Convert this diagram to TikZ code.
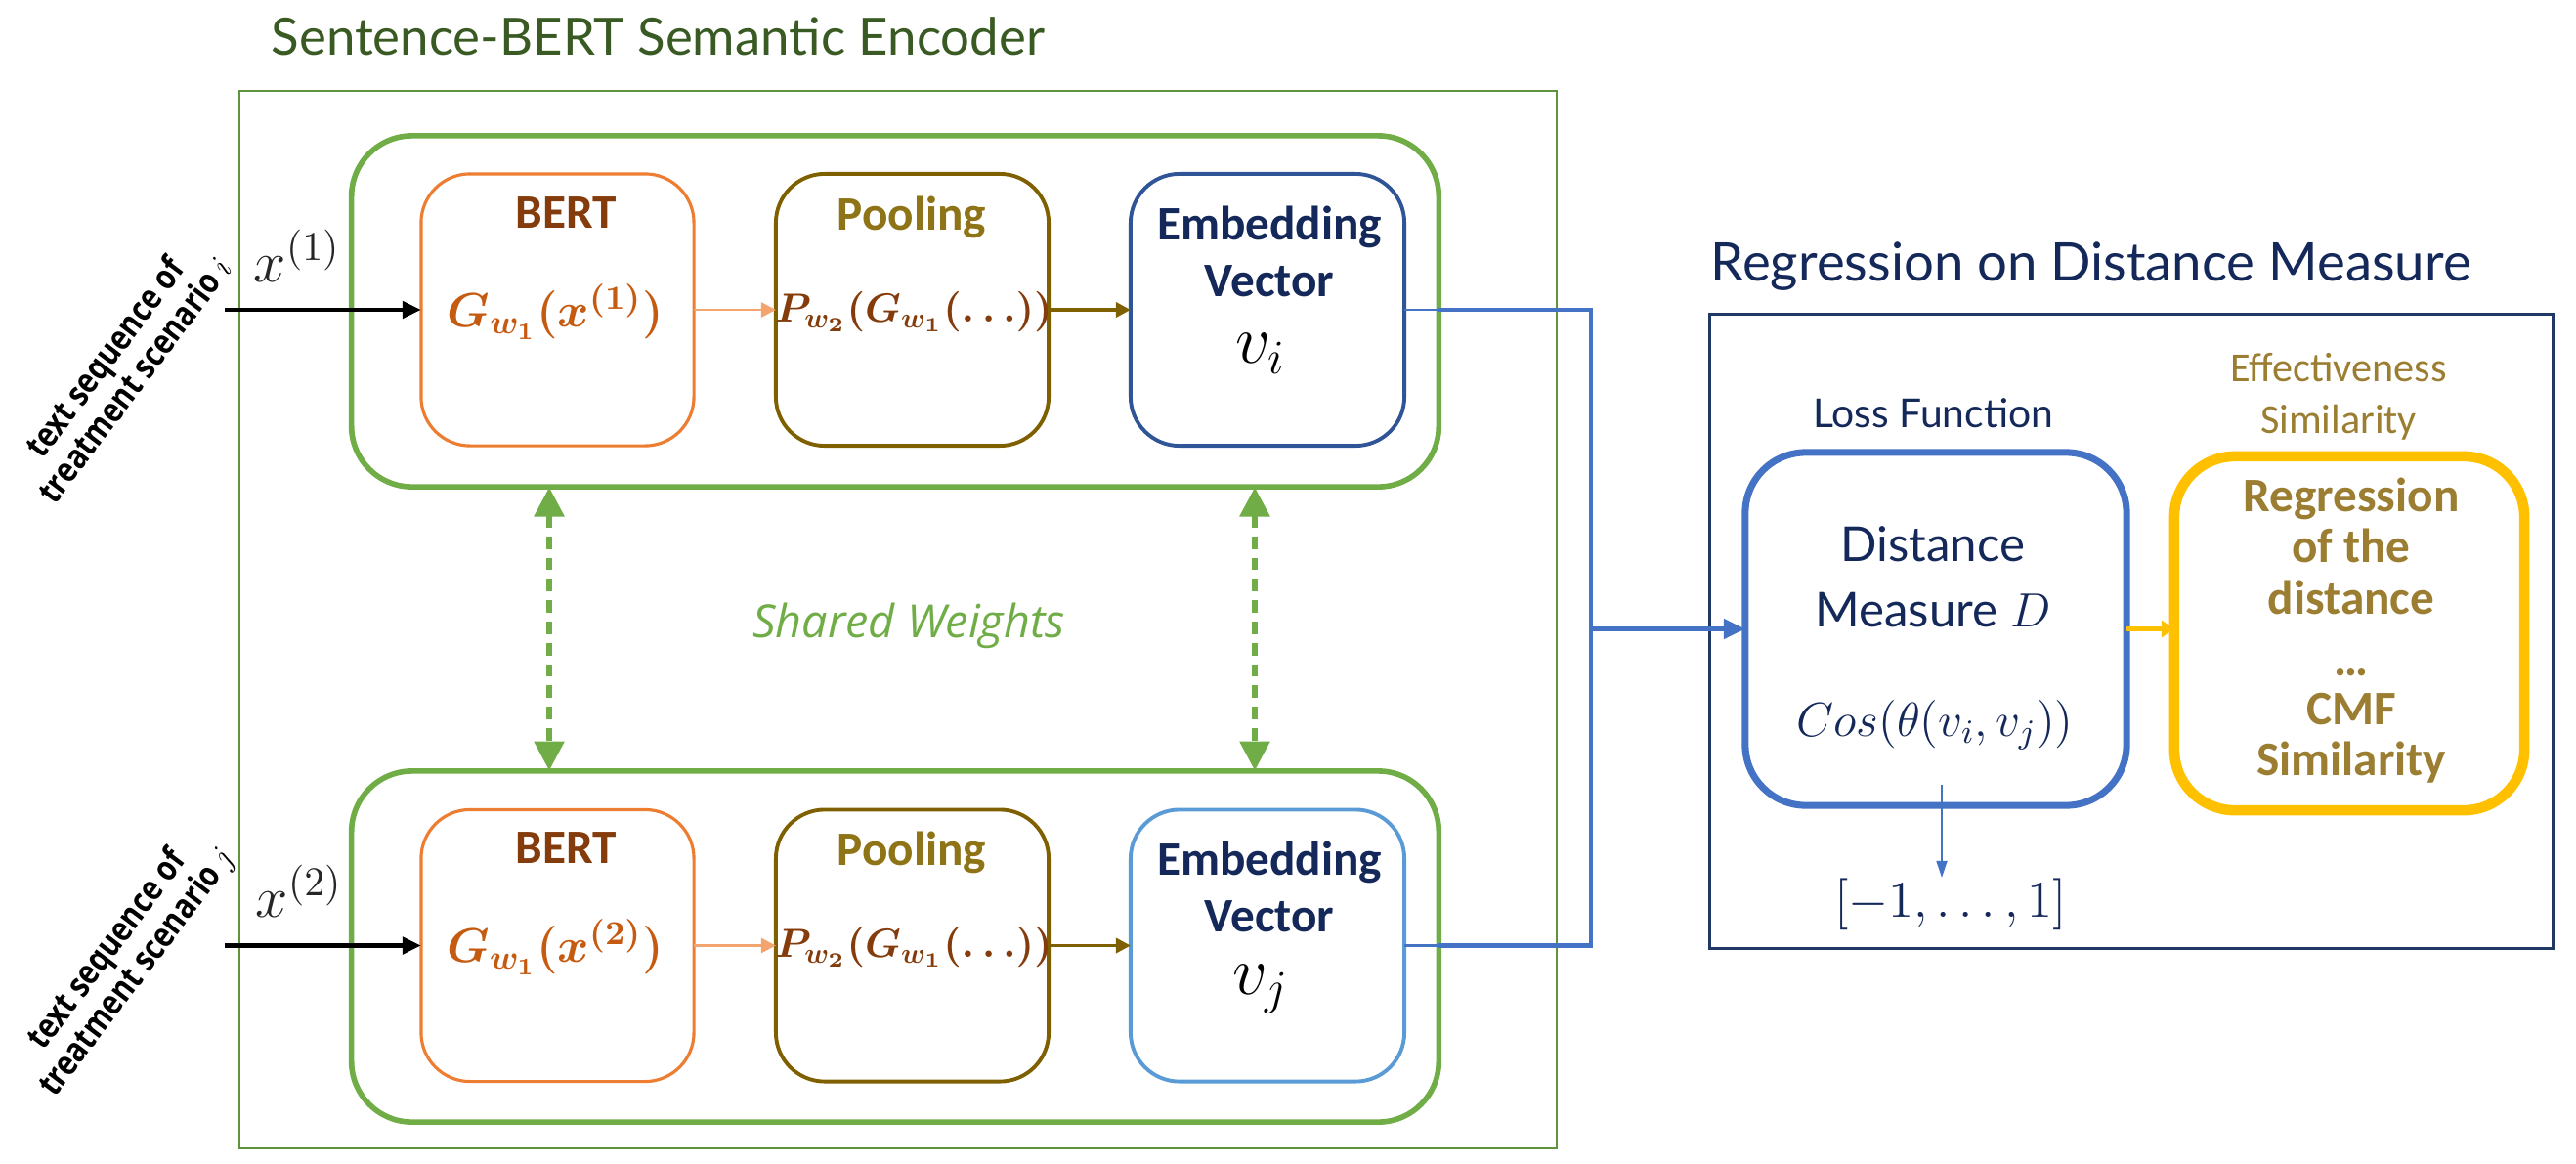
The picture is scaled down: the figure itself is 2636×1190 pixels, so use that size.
\RequirePackage{fix-cm}
\documentclass[tikz,border=0pt]{standalone}
\usepackage{amsmath,bm,graphicx}
\usepackage{fontspec}
\setmainfont{Lato}
\newfontfamily\carl{Carlito}
\newfontfamily\osans{Open Sans}
\usetikzlibrary{arrows.meta}
\definecolor{grn}{HTML}{70AD47}
\definecolor{dgrn}{HTML}{3A5A24}
\definecolor{org}{HTML}{ED7D31}
\definecolor{lorg}{HTML}{F4A46E}
\definecolor{brn}{HTML}{843C0C}
\definecolor{orgtxt}{HTML}{C55A11}
\definecolor{olv}{HTML}{7F6000}
\definecolor{poolt}{HTML}{8E7416}
\definecolor{navy}{HTML}{14285A}
\definecolor{dblue}{HTML}{2F5597}
\definecolor{lblue}{HTML}{5B9BD5}
\definecolor{blu}{HTML}{4472C4}
\definecolor{ylw}{HTML}{FFC000}
\definecolor{gold}{HTML}{9C7E32}
\definecolor{rbox}{HTML}{1F3864}
\newcommand{\sidetext}[2]{\scalebox{0.84}[1]{\begin{tabular}{@{}c@{}}#1\\#2\end{tabular}}}
\tikzset{
  fs/.style={font=\fontsize{#1}{#1}\selectfont},
  encbox/.style={draw=grn, line width=1.6pt, rounded corners=0.62cm, minimum width=11.12cm, minimum height=3.59cm, inner sep=0, outer sep=0},
  bertbox/.style={draw=org, line width=0.9pt, rounded corners=0.5cm, minimum width=2.79cm, minimum height=2.78cm, inner sep=0, outer sep=0},
  poolbox/.style={draw=olv, line width=1.1pt, rounded corners=0.5cm, minimum width=2.79cm, minimum height=2.78cm, inner sep=0, outer sep=0},
  embbox/.style={line width=1.1pt, rounded corners=0.5cm, minimum width=2.80cm, minimum height=2.78cm, inner sep=0, outer sep=0},
  boxlabel/.style={font=\carl\bfseries\fontsize{14}{16.5}\selectfont, align=center, inner sep=0},
  titlefont/.style={font=\fontsize{15}{18}\selectfont, inner sep=0},
  sidelabel/.style={rotate=53, inner sep=0, font=\osans\bfseries\fontsize{10}{10.6}\selectfont},
  inarrow/.style={line width=1.4pt, -{Triangle[length=0.19cm,width=0.17cm]}},
  dasharr/.style={grn, line width=1.7pt, dash pattern=on 3.6pt off 2.6pt, {Triangle[length=0.3cm,width=0.3cm]}-{Triangle[length=0.3cm,width=0.3cm]}},
  bluline/.style={blu, line width=1.4pt},
}
\begin{document}
\begin{tikzpicture}[x=0.01cm,y=-0.01cm]
\useasboundingbox (0,0) rectangle (2636,1190);
% ---------- left panel ----------
\node[titlefont, text=dgrn, anchor=west] (enctitle) at (277,37) {Sentence-BERT Semantic Encoder};
\node[draw=grn!85!black, line width=0.6pt, minimum width=13.48cm, minimum height=10.82cm, inner sep=0, outer sep=0] (outer) at (919,634) {};

\node[encbox] (enc1) at (916,318.5) {};
\node[encbox] (enc2) at (916,968.5) {};

% top row
\node[bertbox] (bert1) at (570.5,317) {};
\node[poolbox] (pool1) at (933.5,317) {};
\node[embbox, draw=dblue] (emb1) at (1297,317) {};
\node[boxlabel, text=brn] (bertl1) at (579,218) {BERT};
\node[text=orgtxt, inner sep=0, fs=14] (g1) at (568,319) {$\bm{G_{w_1}(x^{(1)})}$};
\node[boxlabel, text=poolt] (pooll1) at (933,222) {Pooling};
\node[text=brn, inner sep=0, fs=11.8] (p1) at (935,319) {$\bm{P_{w_2}(G_{w_1}(\ldots))}$};
\node[boxlabel, text=navy] (embl1) at (1299,257) {Embedding\\Vector};
\node[inner sep=0, fs=20] (v1) at (1290,362) {$v_i$};

% bottom row
\node[bertbox] (bert2) at (570.5,967.5) {};
\node[poolbox] (pool2) at (933.5,967.5) {};
\node[embbox, draw=lblue] (emb2) at (1297,967.5) {};
\node[boxlabel, text=brn] (bertl2) at (579,868) {BERT};
\node[text=orgtxt, inner sep=0, fs=14] (g2) at (568,969) {$\bm{G_{w_1}(x^{(2)})}$};
\node[boxlabel, text=poolt] (pooll2) at (933,872) {Pooling};
\node[text=brn, inner sep=0, fs=11.8] (p2) at (935,969) {$\bm{P_{w_2}(G_{w_1}(\ldots))}$};
\node[boxlabel, text=navy] (embl2) at (1299,907) {Embedding\\Vector};
\node[inner sep=0, fs=20] (v2) at (1290,1012) {$v_j$};

% inputs
\coordinate (in1) at (230,317);
\coordinate (in2) at (230,967.5);
\node[inner sep=0, fs=17, text=black!85] (x1) at (304,262) {$x^{(1)}$};
\node[inner sep=0, fs=17, text=black!85] (x2) at (306,912) {$x^{(2)}$};
\node[sidelabel] (lab1) at (126,380) {\sidetext{text sequence of}{treatment scenario $i$}};
\node[sidelabel] (lab2) at (127,985) {\sidetext{text sequence of}{treatment scenario $j$}};
\draw[inarrow] (in1) -- (bert1.west);
\draw[inarrow] (in2) -- (bert2.west);

% internal arrows
\draw[lorg, line width=0.8pt, -{Triangle[length=0.15cm,width=0.15cm]}] (bert1.east) -- (pool1.west);
\draw[lorg, line width=0.8pt, -{Triangle[length=0.15cm,width=0.15cm]}] (bert2.east) -- (pool2.west);
\draw[olv, line width=1.0pt, -{Triangle[length=0.15cm,width=0.15cm]}] (pool1.east) -- (emb1.west);
\draw[olv, line width=1.0pt, -{Triangle[length=0.15cm,width=0.15cm]}] (pool2.east) -- (emb2.west);

% shared weights
\coordinate (d1t) at (562,498.5);
\coordinate (d1b) at (562,788.5);
\coordinate (d2t) at (1284,498.5);
\coordinate (d2b) at (1284,788.5);
\draw[dasharr] (d1t) -- (d1b);
\draw[dasharr] (d2t) -- (d2b);
\node[inner sep=0, text=grn, font=\osans\itshape\fontsize{13.3}{15}\selectfont] (shared) at (930,640) {Shared Weights};

% blue connectors
\coordinate (jt) at (1628,317);
\coordinate (jb) at (1628,967.5);
\coordinate (jm) at (1628,643.5);
\draw[blu, line width=0.6pt] (emb1.east) -- (enc1.east |- emb1.east);
\draw[blu, line width=0.6pt] (emb2.east) -- (enc2.east |- emb2.east);
\draw[bluline, line join=miter] (enc1.east |- emb1.east) -- (jt) -- (jb) -- (enc2.east |- emb2.east);

% ---------- right panel ----------
\node[titlefont, text=navy, anchor=west, font=\fontsize{15.5}{18}\selectfont] (regtitle) at (1750,273) {Regression on Distance Measure};
\node[draw=rbox, line width=0.9pt, minimum width=8.62cm, minimum height=6.48cm, inner sep=0, outer sep=0] (rbox) at (2181,646) {};
\node[draw=blu, line width=2pt, rounded corners=0.62cm, minimum width=3.90cm, minimum height=3.61cm, inner sep=0, outer sep=0] (loss) at (1981,643.5) {};
\node[draw=ylw, line width=3pt, rounded corners=0.62cm, minimum width=3.58cm, minimum height=3.62cm, inner sep=0, outer sep=0] (reg) at (2404,648) {};

\node[inner sep=0, text=navy, font=\fontsize{11.6}{14}\selectfont] (lossl) at (1978,423) {Loss Function};
\node[inner sep=0, text=gold, align=center, font=\carl\fontsize{12}{15}\selectfont] (effl) at (2393,406) {Effectiveness\\Similarity};
\node[inner sep=0, text=navy, align=center, font=\fontsize{14}{19}\selectfont] (distl) at (1978,590) {Distance\\Measure $D$};
\node[inner sep=0, text=navy, fs=14] (cos) at (1980,742) {$Cos(\theta(v_i,v_j))$};
\node[inner sep=0, text=navy, fs=15] (range) at (1996,925) {$[-1,\ldots,1]$};
\coordinate (cosb) at (1987,803);
\draw[blu, line width=0.5pt, -{Triangle[length=0.17cm,width=0.11cm]}] (cosb) -- (cosb |- range.north);

\node[inner sep=0, text=gold, align=center, font=\carl\bfseries\fontsize{14}{15}\selectfont] (regl) at (2406,645) {Regression\\of the\\distance\\[3pt]\ldots\\[-1pt]CMF\\Similarity};

\draw[bluline, -{Triangle[length=0.22cm,width=0.2cm]}] (jm) -- (loss.west);
\draw[ylw, line width=1.4pt, -{Triangle[length=0.13cm,width=0.17cm]}] (loss.east) -- (reg.west |- loss.east);
\end{tikzpicture}
\end{document}
